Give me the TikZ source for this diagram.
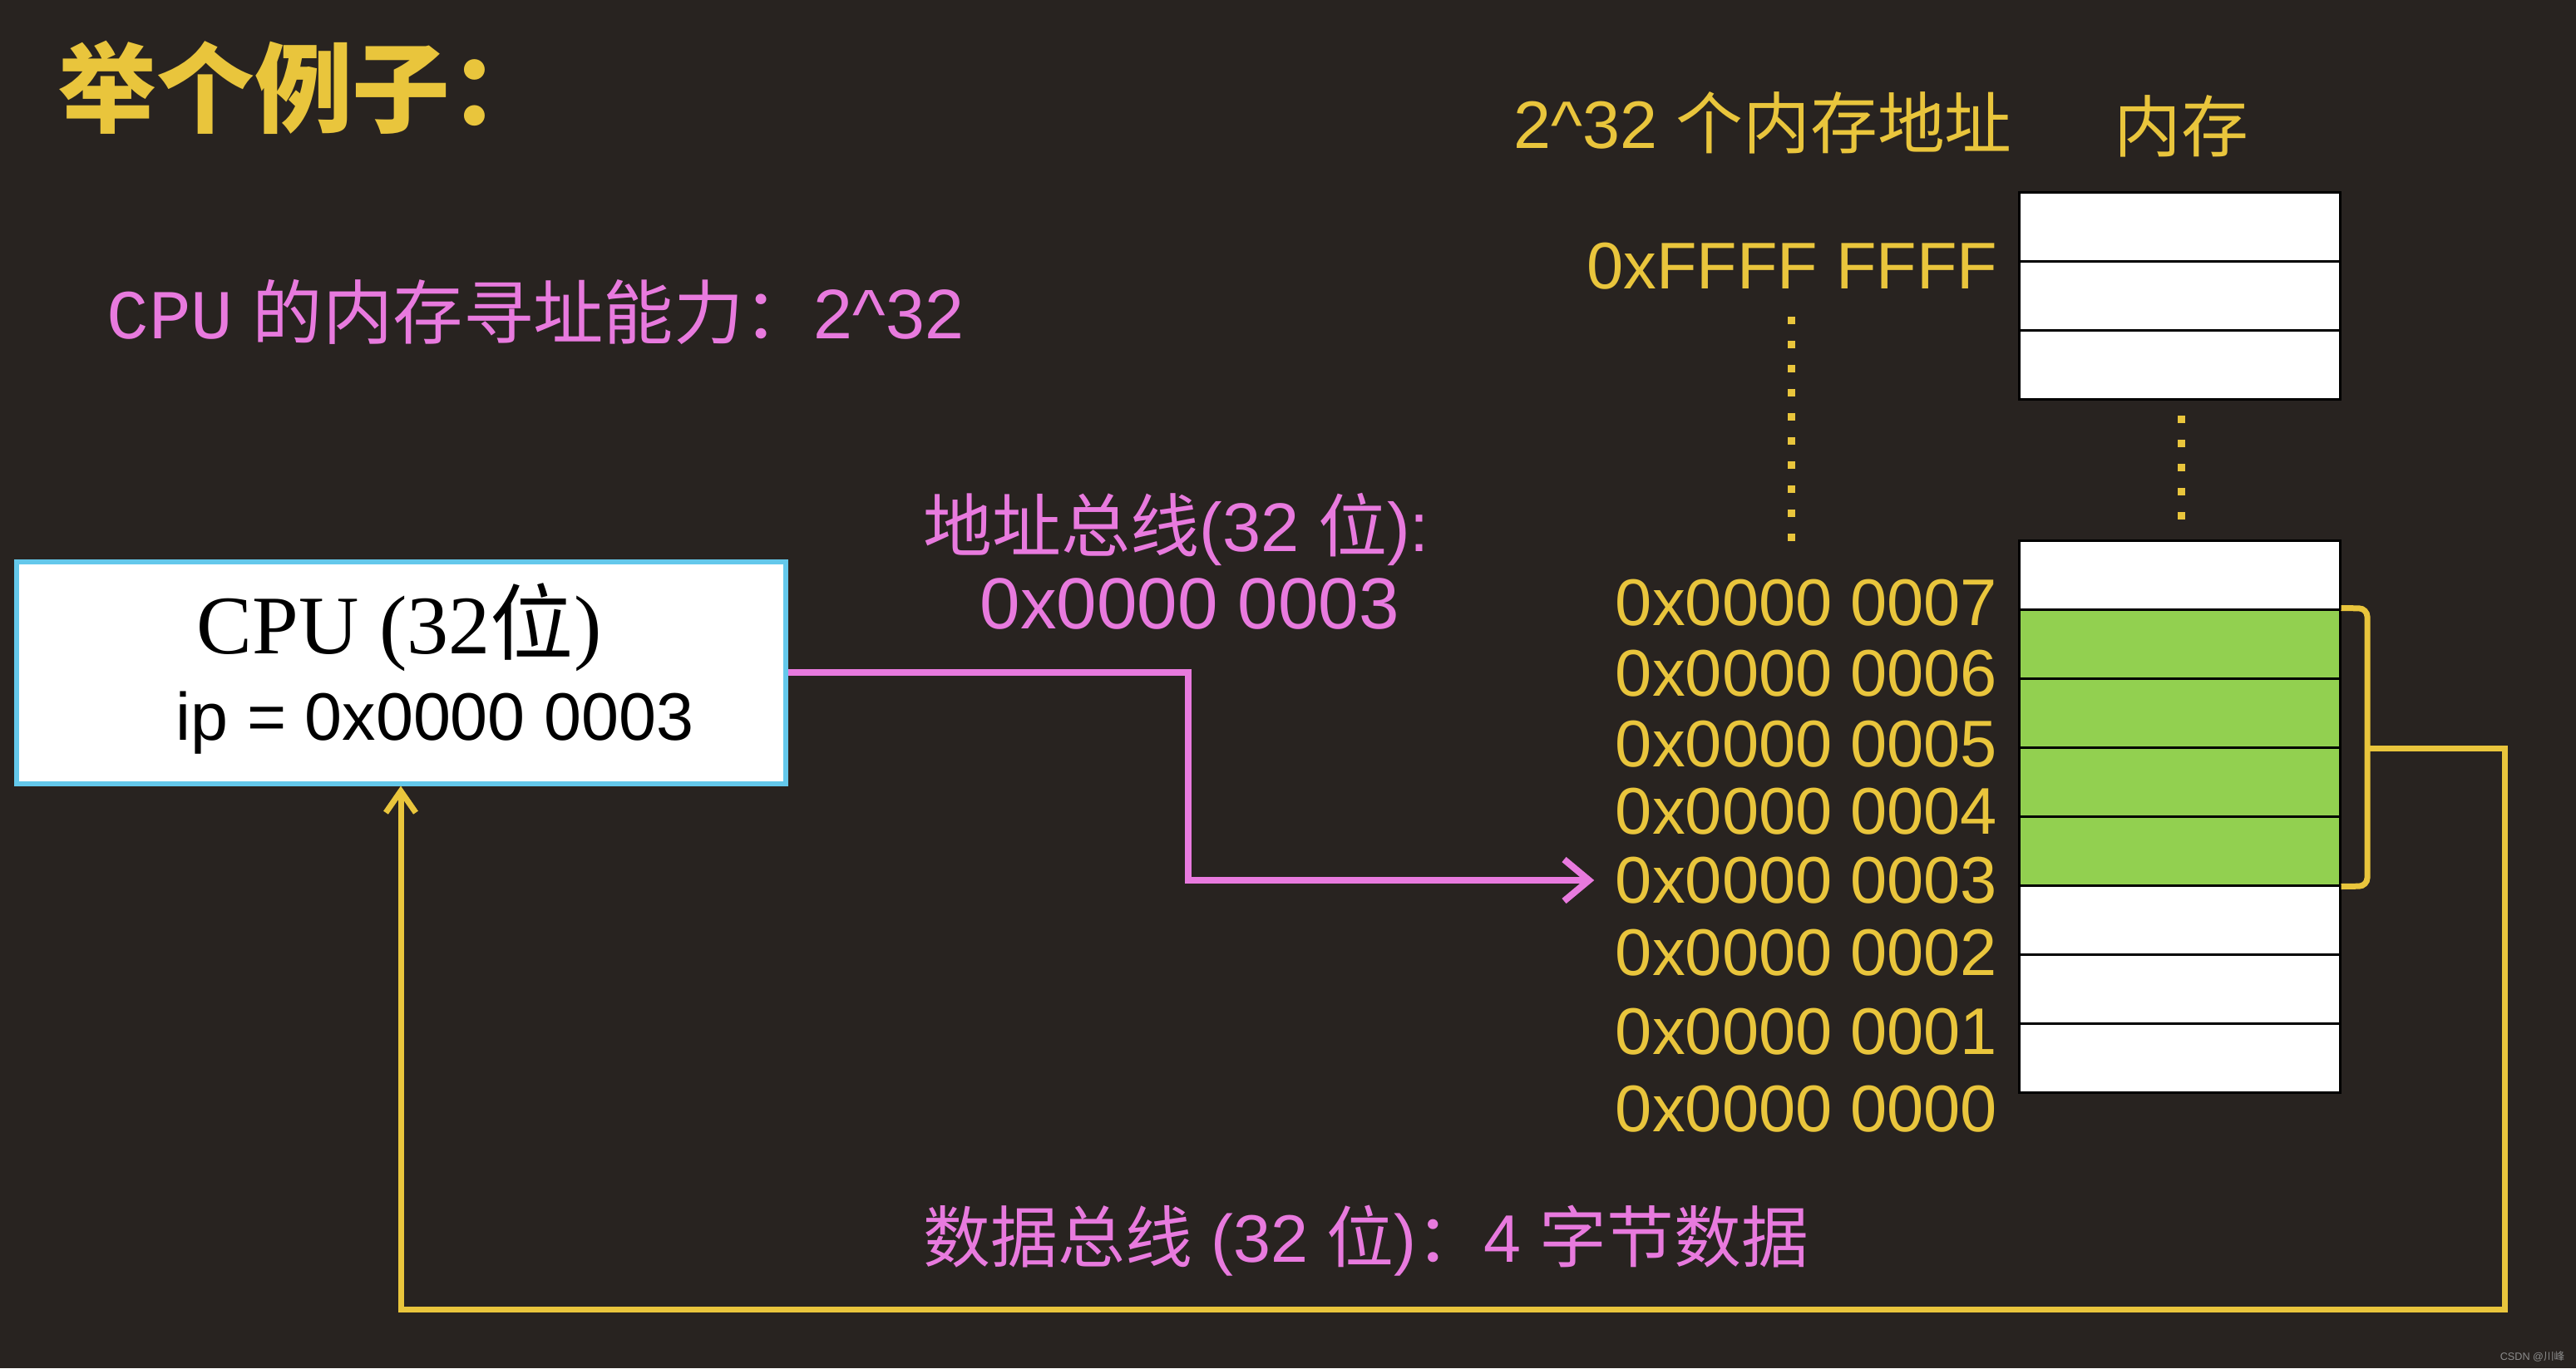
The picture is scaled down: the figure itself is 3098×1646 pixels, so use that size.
\documentclass[tikz,border=0pt]{standalone}
\usepackage{fontspec}
\setmainfont{Liberation Sans}
\newfontfamily\cjk{Noto Sans CJK SC}
\newfontfamily\tnr{Liberation Serif}
\newfontfamily\cour{Liberation Mono}
\usetikzlibrary{arrows.meta}
\definecolor{bgc}{RGB}{40,35,32}
\definecolor{ylw}{RGB}{233,197,60}
\definecolor{pnk}{RGB}{232,122,222}
\definecolor{cyb}{RGB}{100,200,235}
\definecolor{grn}{RGB}{146,208,80}
\newcommand{\bigfont}[1]{\fontsize{#1}{1.15\dimexpr#1\relax}\selectfont}

\begin{document}
\begin{tikzpicture}[
  x=0.1mm, y=-0.1mm,
  addr/.style={anchor=east, inner sep=0pt, text=ylw,
               font=\bigfont{22.6pt}},
  ptxt/.style={anchor=west, inner sep=0pt, text=pnk,
               font=\bigfont{23pt}},
  cell/.style={draw=black, line width=0.3mm, fill=white, inner sep=0pt,
               minimum width=38.6mm, minimum height=8.3mm},
  gcell/.style={cell, fill=grn},
  abus/.style={draw=pnk, line width=0.8mm,
               -{Straight Barb[length=3mm, width=5mm]}},
  dbus/.style={draw=ylw, line width=0.7mm,
               -{Straight Barb[length=2.6mm, width=3.6mm]}},
  dotcol/.style={draw=ylw, line width=0.9mm, dash pattern=on 0.9mm off 2mm}]

\fill[bgc] (0,0) rectangle (3098,1646);

\node[anchor=west, inner sep=0pt, text=ylw,
      font=\cjk\bfseries\bigfont{33.5pt}] (title) at (70,105) {举个例子：};
\node[ptxt, font=\bigfont{24pt}] (cap) at (128,375)
     {{\cour CPU} {\cjk 的内存寻址能力：}2\textasciicircum 32};

% CPU
\node[draw=cyb, line width=0.6mm, fill=white, minimum width=92.5mm,
      minimum height=26.7mm] (cpu) at (482,809) {};
\node[inner sep=0pt, font=\bigfont{28.5pt}] (cpuname) at (480,755)
     {{\tnr CPU (32}{\cjk 位}{\tnr )}};
\node[inner sep=0pt, font=\bigfont{23pt}] (cpuip) at (523,870)
     {ip = 0x0000 0003};

% memory
\foreach \i in {1,2,3}
  \node[cell] (t\i) at (2621,{231+83*(\i-1)+41.5}) {};
\foreach \i in {0,...,7}{
  \ifnum\i>0 \ifnum\i<5
    \node[gcell] (m\i) at (2621,{650+83*\i+41.5}) {};
  \else
    \node[cell] (m\i) at (2621,{650+83*\i+41.5}) {};
  \fi \else
    \node[cell] (m\i) at (2621,{650+83*\i+41.5}) {};
  \fi}
\node[inner sep=0pt, text=ylw, font=\cjk\bigfont{23pt}] (memname)
     at (2623,152) {内存};
\node[inner sep=0pt, text=ylw, font=\bigfont{23pt}] (naddr) at (2120,148)
     {2\textasciicircum 32 {\cjk 个内存地址}};

% addresses
\node[addr] (aF) at (2403,320) {0xFFFF FFFF};
\foreach \a/\yy in {7/725,6/810,5/895,4/976,3/1059,2/1146,1/1241,0/1334}
  \node[addr] (a\a) at (2403,\yy) {0x0000 000\a};
\draw[dotcol] (2154,381) -- (2154,651);
\draw[dotcol] (2623,500) -- (2623,625);

% address bus
\node[ptxt, font=\bigfont{23.6pt}] (ablab) at (1110,637)
     {{\cjk 地址总线}(32 {\cjk 位}):};
\node[ptxt, font=\bigfont{24.8pt}] (abval) at (1178,726) {0x0000 0003};
\coordinate (abend) at (1429,0);
\draw[abus] (cpu.east) -| (abend |- a3.west) -- ([xshift=-2.5mm]a3.west);

% data bus
\draw[draw=ylw, line width=0.7mm, rounded corners=1mm]
  (m1.north east) -- (2847,732) -- (2847,1066) -- (m4.south east);
\coordinate (brk) at (2847,900);
\coordinate (dbcorner) at (3012,1575);
\draw[dbus] (brk) -| (dbcorner) -| (cpu.south);
\node[ptxt] (dblab) at (1110,1493)
     {{\cjk 数据总线} (32 {\cjk 位}){\cjk ：}4 {\cjk 字节数据}};

\node[anchor=east, inner sep=0pt, text=black!45, font=\bigfont{3.6pt}]
     (mark) at (3085,1632) {CSDN @{\cjk 川峰}};
\end{tikzpicture}
\end{document}
